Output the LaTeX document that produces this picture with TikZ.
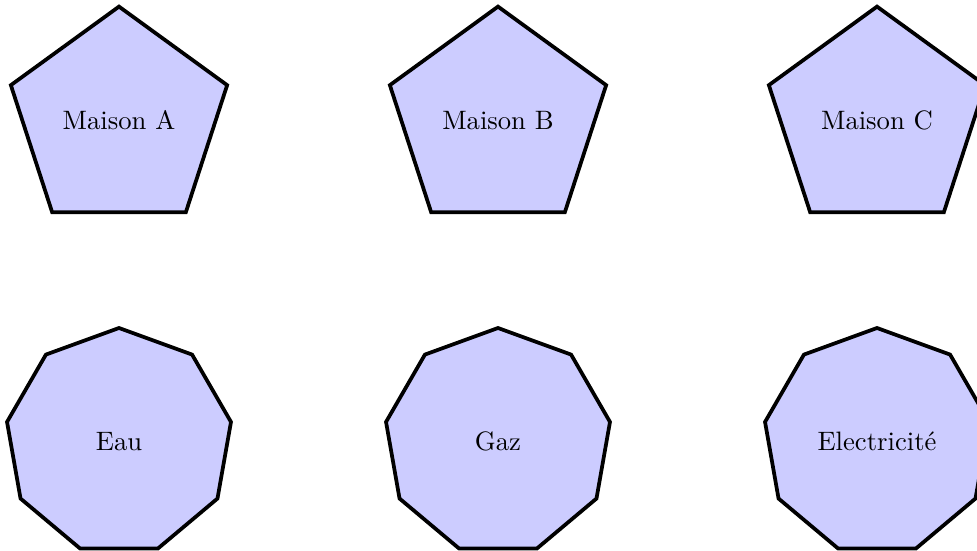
\documentclass[tikz,border=0pt]{standalone}
\usetikzlibrary{shapes.geometric}
\tikzset{
  house/.style={regular polygon, regular polygon sides=5, minimum size=3cm, inner sep=0pt, outer sep=0pt, draw=black, line width=1.4pt, fill=blue!20},
  utility/.style={regular polygon, regular polygon sides=9, minimum size=3cm, inner sep=0pt, outer sep=0pt, draw=black, line width=1.4pt, fill=blue!20}
}
\begin{document}
\begin{tikzpicture}
\useasboundingbox (-1.570,-5.682) rectangle (11.319,1.587);
\node[house] (A) at (0,0) {Maison A};
\node[house] (B) at (5,0) {Maison B};
\node[house] (C) at (10,0) {Maison C};
\node[utility] (E) at (0,-4.24) {Eau};
\node[utility] (G) at (5,-4.24) {Gaz};
\node[utility] (L) at (10,-4.24) {Electricité};
\end{tikzpicture}
\end{document}
